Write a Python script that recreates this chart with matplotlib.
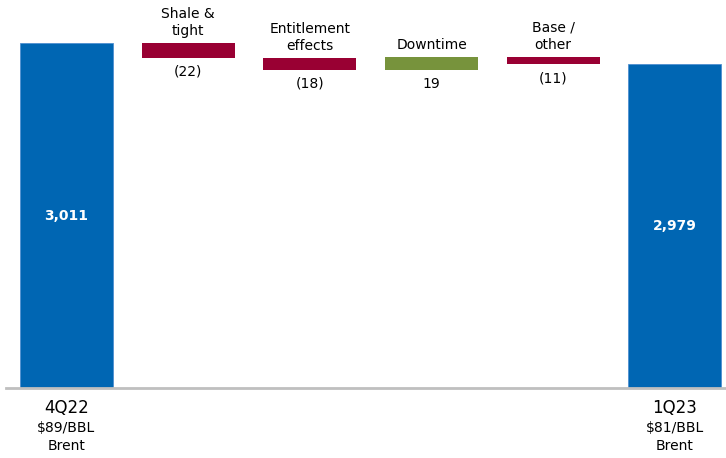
import matplotlib
matplotlib.use("Agg")
import matplotlib.pyplot as plt

# Production walk, 4Q22 -> 1Q23 (MBOED)
categories = ["4Q22", "Shale &\ntight", "Entitlement\neffects", "Downtime", "Base /\nother", "1Q23"]
start_value = 3011
deltas = [-22, -18, 19, -11]
end_value = 2979
delta_labels = ["(22)", "(18)", "19", "(11)"]
total_labels = ["3,011", "2,979"]
brent = ["$89/BBL\nBrent", "$81/BBL\nBrent"]

BLUE = "#0066B3"
RED = "#990033"
GREEN = "#77933C"

plt.rcParams["font.family"] = ["DejaVu Sans"]

fig = plt.figure(figsize=(7.26, 4.58), dpi=100)
ax = fig.add_axes([6 / 726, 70 / 458, 1 - 6 / 726, 1 - 70 / 458])
ax.set_xlim(-0.497, 5.42)
ax.set_ylim(2486, 3077)

width = 0.765
ybase = ax.get_ylim()[0]

# opening total
ax.bar(0, start_value - ybase, bottom=ybase, width=width, color=BLUE, edgecolor="#4F8FD0", linewidth=0.6)
ax.text(0, (start_value + ybase) / 2, total_labels[0], ha="center", va="center",
        color="white", fontsize=10, fontweight="bold")

# step changes
level = start_value
for i, d in enumerate(deltas):
    x = i + 1
    new_level = level + d
    lo, hi = min(level, new_level), max(level, new_level)
    color = GREEN if d > 0 else RED
    ax.bar(x, hi - lo, bottom=lo, width=width, color=color, linewidth=0)
    ax.annotate(categories[x], (x, hi), xytext=(0, 3.5), textcoords="offset points",
                ha="center", va="bottom", fontsize=10, linespacing=1.3)
    ax.annotate(delta_labels[i], (x, lo), xytext=(0, -5), textcoords="offset points",
                ha="center", va="top", fontsize=10)
    level = new_level

# closing total
ax.bar(5, end_value - ybase, bottom=ybase, width=width, color=BLUE, edgecolor="#4F8FD0", linewidth=0.6)
ax.text(5, (end_value + ybase) / 2, total_labels[1], ha="center", va="center",
        color="white", fontsize=10, fontweight="bold")

# period labels under the axis
for x, name, sub in [(0, categories[0], brent[0]), (5, categories[5], brent[1])]:
    ax.annotate(name, (x, ybase), xytext=(0, -8), textcoords="offset points",
                ha="center", va="top", fontsize=12)
    ax.annotate(sub, (x, ybase), xytext=(0, -24), textcoords="offset points",
                ha="center", va="top", fontsize=10, linespacing=1.3)

for s in ["top", "right", "left"]:
    ax.spines[s].set_visible(False)
ax.spines["bottom"].set_color("#BFBFBF")
ax.spines["bottom"].set_linewidth(2)
ax.set_xticks([])
ax.set_yticks([])

fig.savefig("out.png", dpi=100)
